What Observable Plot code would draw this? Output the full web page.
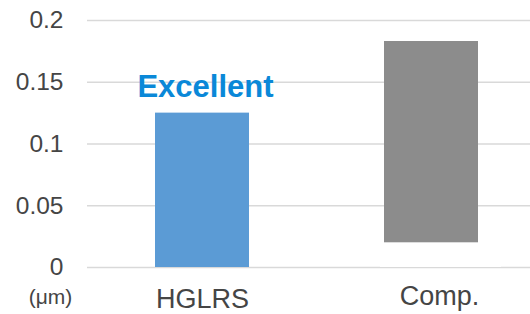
<!DOCTYPE html>
<html>
<head>
<meta charset="utf-8">
<script src="https://cdn.jsdelivr.net/npm/d3@7"></script>
<script src="https://cdn.jsdelivr.net/npm/@observablehq/plot@0.6"></script>
<style>
  html, body { margin: 0; padding: 0; background: #fff; }
  #chart svg { display: block; font-family: "Liberation Sans", Arial, sans-serif; }
</style>
</head>
<body>
<div id="chart"></div>
<script>
const categories = ["HGLRS", "Comp."];
const lows = [0, 0.02];
const highs = [0.125, 0.183];
const barColors = ["#5b9bd5", "#8c8c8c"];
const yTicks = [0, 0.05, 0.1, 0.15, 0.2];
const yTickLabels = ["0", "0.05", "0.1", "0.15", "0.2"];
const annotation = "Excellent";
const unitLabel = "(\u03bcm)";

const rows = categories.map((c, i) => ({cat: c, lo: lows[i], hi: highs[i], color: barColors[i]}));

const chart = Plot.plot({
  width: 530,
  height: 314,
  marginLeft: 87,
  marginRight: 0,
  marginTop: 20,
  marginBottom: 47,
  style: {fontFamily: "'Liberation Sans', Arial, sans-serif", background: "#fff"},
  x: {domain: categories, paddingInner: 0.59, paddingOuter: 0.26, align: 0.565, label: null},
  y: {domain: [0, 0.2], label: null},
  marks: [
    Plot.ruleY(yTicks, {stroke: "#d9d9d9", strokeWidth: 1.5}),
    // white base under the floating Comp. bar (hides the zero gridline there)
    Plot.barY([rows[1]], {x: "cat", y1: 0, y2: 0.003, fill: "#fff", insetLeft: -4, insetRight: -23}),
    Plot.barY(rows, {x: "cat", y1: "lo", y2: "hi", fill: "color"}),
    Plot.axisY(yTicks, {tickSize: 0, tickPadding: 24, fontSize: 24.5, fill: "#454545", tickFormat: (d, i) => yTickLabels[i]}),
    Plot.axisX([categories[0]], {tickSize: 0, tickPadding: 21, fontSize: 27, fill: "#454545"}),
    Plot.axisX([categories[1]], {tickSize: 0, tickPadding: 18, dx: 8, fontSize: 27, fill: "#454545"}),
    Plot.text([rows[0]], {x: "cat", y: "hi", text: () => annotation, dx: 3, dy: -26, fontSize: 31, fontWeight: "bold", fill: "#0a88d8"}),
    Plot.text([unitLabel], {frameAnchor: "bottom-left", dx: -37, dy: 36, fontSize: 21, fill: "#454545", textAnchor: "middle"})
  ]
});
document.getElementById("chart").appendChild(chart);
</script>
</body>
</html>
